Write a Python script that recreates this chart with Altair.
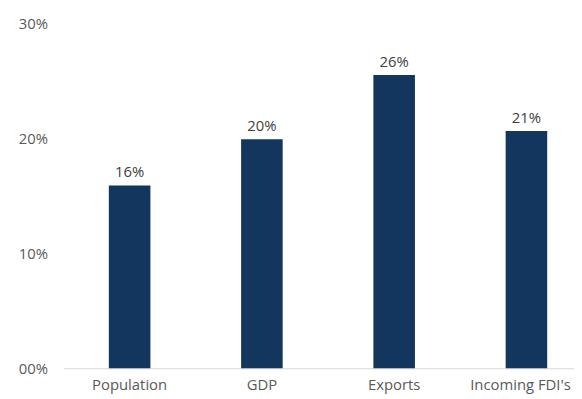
import altair as alt
import pandas as pd

categories = ["Population", "GDP", "Exports", "Incoming FDI's"]
values = [15.93, 19.95, 25.54, 20.66]
labels = ["16%", "20%", "26%", "21%"]

df = pd.DataFrame({"cat": categories, "val": values, "lab": labels})

FONT = "Open Sans"

x = alt.X(
    "cat:N",
    sort=categories,
    title=None,
    scale=alt.Scale(paddingInner=0.6818, paddingOuter=0.271, align=0.63),
    axis=alt.Axis(
        labelAngle=0,
        ticks=False,
        domainColor="#d9d9d9",
        domainWidth=1,
        labelFont=FONT,
        labelFontSize=15,
        labelColor="#595959",
        labelPadding=9,
        labelOffset=alt.ExprRef("datum.index == 1 ? -6 : 0"),
    ),
)
y = alt.Y(
    "val:Q",
    title=None,
    scale=alt.Scale(domain=[0, 30]),
    axis=alt.Axis(
        values=[0, 10, 20, 30],
        labelExpr="datum.value == 0 ? '00%' : datum.value + '%'",
        grid=False,
        domain=False,
        ticks=False,
        labelFont=FONT,
        labelFontSize=15,
        labelColor="#595959",
        labelPadding=16,
    ),
)

bars = alt.Chart(df).mark_bar(color="#13365f", size=42).encode(x=x, y=y)
text = alt.Chart(df).mark_text(
    baseline="bottom", dy=-5, font=FONT, fontSize=15, color="#404040"
).encode(x=alt.X("cat:N", sort=categories), y="val:Q", text="lab:N")

chart = (
    (bars + text)
    .properties(
        width=516,
        height=348,
        autosize=alt.AutoSizeParams(type="none"),
        padding={"left": 56, "top": 14, "right": 0, "bottom": 27},
    )
    .configure_view(stroke=None)
)

chart.save("out.html", embed_options={"renderer": "svg", "actions": False})
